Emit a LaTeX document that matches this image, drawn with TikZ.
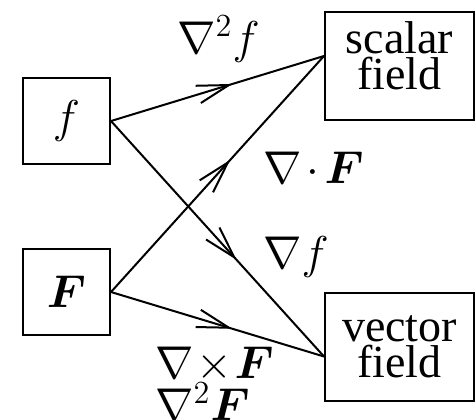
\RequirePackage{fix-cm}
\documentclass[tikz,border=0pt]{standalone}
\usepackage{amsmath}
\usepackage{fontspec}
\setmainfont{Liberation Serif}
\usetikzlibrary{arrows.meta,decorations.markings}
\tikzset{bx/.style={draw, line width=1pt, inner sep=0pt, align=center},
  flow/.style={line width=1pt, postaction={decorate},
    decoration={markings, mark=at position #1 with {\arrow{Straight Barb[length=16pt,width=9pt,line width=1pt]}}}},
  lbl/.style={anchor=base west, inner sep=0pt}}

\begin{document}
\begin{tikzpicture}[x=0.5pt, y=-0.5pt, font=\fontsize{23}{18}\selectfont]
  \useasboundingbox (0,0) rectangle (476,419);
  % fields on the left
  \node[bx, minimum width=43.5pt, minimum height=43pt] (f) at (66.5,121) {$f$};
  \node[bx, minimum width=43.5pt, minimum height=43pt] (F) at (66.5,292) {$\boldsymbol{F}$};
  % kinds of field on the right
  \node[bx, minimum width=74.5pt, minimum height=54pt] (sf) at (399.5,66) {};
  \node[align=center] (sft) at ([yshift=5pt]sf.center) {scalar\\field};
  \node[bx, minimum width=74.5pt, minimum height=54pt] (vf) at (399.5,346.5) {vector\\field};
  % operators
  \draw[flow=0.57] (f.east) -- ([yshift=5pt]sf.west);
  \draw[flow=0.59] (f.east) -- ([yshift=-5pt]vf.west);
  \draw[flow=0.56] (F.east) -- ([yshift=5pt]sf.west);
  \draw[flow=0.57] (F.east) -- ([yshift=-5pt]vf.west);
  % labels
  \node[lbl] (lap) at (177,53) {$\nabla^2 f$};
  \node[lbl] (div) at (263,183) {$\nabla\mskip-2mu\cdot\mskip-2mu\boldsymbol{F}$};
  \node[lbl] (grad) at (263,268) {$\nabla f$};
  \node[lbl] (curl) at (155,378) {$\nabla\!\times\!\boldsymbol{F}$};
  \node[lbl] (vlap) at (155,420) {$\nabla^2\boldsymbol{F}$};
\end{tikzpicture}
\end{document}
